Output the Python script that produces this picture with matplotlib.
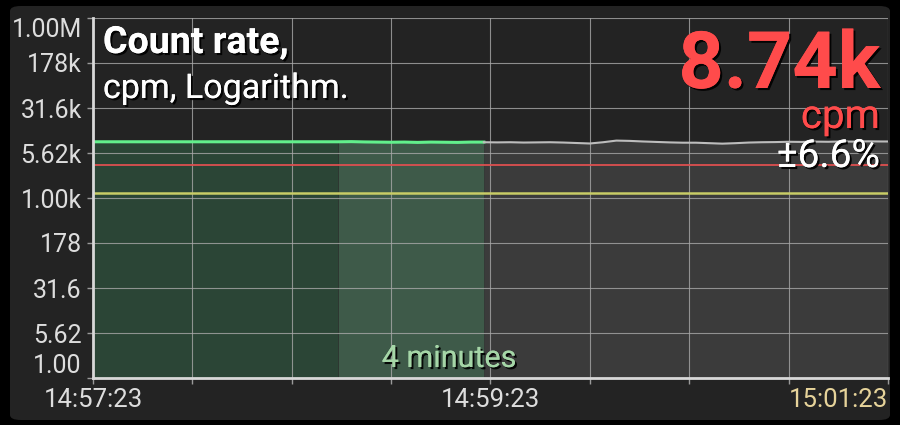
import matplotlib
matplotlib.use("Agg")
import numpy as np
import matplotlib.pyplot as plt
import matplotlib.patheffects as pe
from matplotlib.patches import FancyBboxPatch

plt.rcParams['font.family'] = ['Roboto', 'DejaVu Sans']

# seconds after 14:57:23
dark_t = [0, 74]
dark_cpm = [8650, 8650]

light_t = [74, 78, 82, 86, 90, 94, 98, 102, 106, 110, 114, 118]
light_cpm = [8650, 8700, 8600, 8550, 8500, 8550, 8450, 8550, 8500, 8450, 8550, 8550]

gray_t = [118, 122, 126, 130, 134, 138, 142, 146, 150, 154, 158, 162, 166, 170,
          174, 178, 182, 186, 190, 194, 198, 202, 206, 210, 214, 218, 222, 226,
          230, 234, 238, 240]
gray_cpm = [8500, 8450, 8500, 8400, 8450, 8500, 8400, 8250, 8100, 8500, 9050,
            8950, 8750, 8600, 8450, 8350, 8350, 8200, 8050, 8200, 8400, 8500,
            8550, 8650, 8600, 8700, 8650, 8750, 8700, 8800, 8750, 8750]

red_level = 3550
yellow_level = 1210

y_ticks = [1, 5.62, 31.6, 178, 1e3, 5.62e3, 31.6e3, 178e3, 1e6]
y_labels = ['1.00', '5.62', '31.6', '178', '1.00k', '5.62k', '31.6k', '178k', '1.00M']
x_ticks = [0, 30, 60, 90, 120, 150, 180, 210, 240]
x_labels = ['14:57:23', '', '', '', '14:59:23', '', '', '', '15:01:23']

W, H = 900, 425
fig = plt.figure(figsize=(9, 4.25), dpi=100, facecolor='black')

# rounded panel behind the chart
panel = FancyBboxPatch((10 / W, 5 / H), 880 / W, 414 / H,
                       boxstyle="round,pad=0,rounding_size=0.012",
                       transform=fig.transFigure, facecolor='#232323',
                       edgecolor='none', zorder=-1)
fig.patches.append(panel)

ax = fig.add_axes([93 / W, 47 / H, 795 / W, 360 / H])
ax.set_zorder(2)
ax.set_facecolor('none')
ax.set_yscale('log')
ax.set_xlim(0, 240)
ax.set_ylim(1, 1e6)

ax.fill_between(dark_t, 1, dark_cpm, color='#2b4536', lw=0, zorder=1)
ax.fill_between(light_t, 1, light_cpm, color='#3e5a49', lw=0, zorder=1)
ax.fill_between(gray_t, 1, gray_cpm, color='#3b3b3b', lw=0, zorder=1)

ax.axhline(red_level, color='#dd5050', lw=1.3, zorder=2)
ax.axhline(yellow_level, color='#c8cc66', lw=1.8, zorder=2)

ax.plot(dark_t + light_t, dark_cpm + light_cpm, color='#62f08c', lw=2.2, zorder=3)
ax.plot(gray_t, gray_cpm, color='#bdbdbd', lw=1.5, zorder=3)

ax.set_yticks(y_ticks)
ax.set_yticklabels(y_labels)
ax.yaxis.set_minor_locator(matplotlib.ticker.NullLocator())
ax.set_xticks(x_ticks)
ax.set_xticklabels(x_labels)
ax.grid(True, color='#a8a8a8', lw=0.8, alpha=0.8, zorder=1.5)

for side in ['top', 'right']:
    ax.spines[side].set_visible(False)
for side in ['left', 'bottom']:
    ax.spines[side].set_color('#d8d8d8')
    ax.spines[side].set_linewidth(2)
    ax.spines[side].set_zorder(4)

ax.tick_params(axis='both', colors='#9a9a9a', labelcolor='#dddddd',
               length=4, width=1)
ax.tick_params(axis='y', pad=4, labelsize=18)
ax.tick_params(axis='x', pad=3, labelsize=18.5)
xl = ax.get_xticklabels()
xl[-1].set_color('#e6d39a')
xl[-1].set_ha('right')
yl = ax.get_yticklabels()
yl[0].set_va('bottom')
yl[-1].set_va('top')

shadow = [pe.withSimplePatchShadow(offset=(1.5, -1.5), shadow_rgbFace='black', alpha=0.9),
          pe.Normal()]


def ftext(x, y, s, **kw):
    t = fig.text(x / W, 1 - y / H, s, path_effects=shadow, zorder=5, **kw)
    return t


ftext(103, 53, 'Count rate,', color='white', fontsize=27, fontweight='bold', va='baseline')
ftext(103, 98, 'cpm, Logarithm.', color='white', fontsize=24.5, va='baseline')
ftext(880, 88, '8.74k', color='#ff4b4b', fontsize=57, fontweight='bold', va='baseline', ha='right')
ftext(880, 128, 'cpm', color='#ff4b4b', fontsize=29, va='baseline', ha='right')
ftext(880, 167, '±6.6%', color='white', fontsize=28, va='baseline', ha='right')
ftext(449, 367, '4 minutes', color='#a5d6a7', fontsize=22, va='baseline', ha='center')

fig.savefig('out.png', dpi=100, facecolor='black')
